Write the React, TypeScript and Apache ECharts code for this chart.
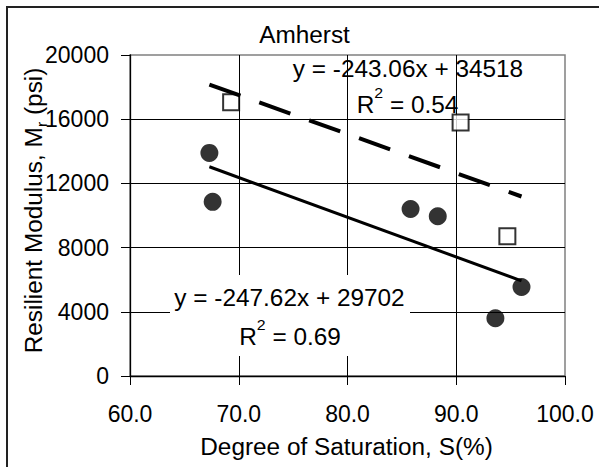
import React, { useEffect, useRef } from "react";
import * as echarts from "echarts";

const FONT = "'Liberation Sans', Arial, sans-serif";

const titleText = "Amherst";
const xAxisTitle = "Degree of Saturation, S(%)";
const yAxisTitle = "Resilient Modulus, M{sub|r} (psi)";

// axis ranges
const xMin = 60;
const xMax = 100;
const xStep = 10;
const yMin = 0;
const yMax = 20000;
const yStep = 4000;

// filled circles (solid trendline)
const filledSat = [67.3, 67.6, 85.8, 88.3, 93.6, 96.0];
const filledMr = [13900, 10850, 10400, 9950, 3600, 5550];

// open squares (dashed trendline)
const openSat = [69.3, 90.4, 94.7];
const openMr = [17050, 15800, 8700];

// trendline equations printed on the chart
const solidSlope = -247.62;
const solidIntercept = 29702;
const solidR2 = "0.69";
const dashedSlope = -243.06;
const dashedIntercept = 34518;
const dashedR2 = "0.54";

const zip = (a: number[], b: number[]) => a.map((v, i) => [v, b[i]]);
const trendRange = [Math.min(...filledSat), Math.max(...filledSat)];
const fitLine = (m: number, c: number) => trendRange.map((x) => [x, m * x + c]);
const eqText = (m: number, c: number) => `y = ${m.toFixed(2)}x + ${c}`;

const SX = 1.06;

function makeOption(): any {
  const axisLabel = { fontSize: 23, fontFamily: FONT, color: "#000" };
  const r2Rich = {
    r: { fontSize: 23, fontFamily: FONT, lineHeight: 40, fill: "#000" },
    sup: { fontSize: 15, fontFamily: FONT, lineHeight: 15, verticalAlign: "top", fill: "#000" },
  };
  const txt = (x: number, y: number, text: string, extra: any = {}) => ({
    type: "text",
    x,
    y,
    scaleX: SX,
    z: 100,
    silent: true,
    style: {
      text,
      fontSize: 23,
      fontFamily: FONT,
      fill: "#000",
      align: "center",
      verticalAlign: "middle",
      ...extra,
    },
  });
  return {
    animation: false,
    backgroundColor: "#fff",
    grid: {
      left: 130,
      top: 55,
      width: 435,
      height: 321,
      show: true,
      backgroundColor: "#fff",
      borderColor: "#808080",
      borderWidth: 1.5,
    },
    xAxis: {
      type: "value",
      min: xMin,
      max: xMax,
      interval: xStep,
      axisLine: { show: true, onZero: false, lineStyle: { color: "#000", width: 1.3 } },
      axisTick: { show: true, inside: false, length: 9, lineStyle: { color: "#000", width: 1 } },
      axisLabel: { ...axisLabel, margin: 26, formatter: (v: number) => v.toFixed(1) },
      splitLine: {
        show: true,
        showMinLine: false,
        showMaxLine: false,
        lineStyle: { color: "#000", width: 1 },
      },
    },
    yAxis: {
      type: "value",
      min: yMin,
      max: yMax,
      interval: yStep,
      axisLine: { show: true, onZero: false, lineStyle: { color: "#000", width: 1.3 } },
      axisTick: { show: true, inside: false, length: 9, lineStyle: { color: "#000", width: 1 } },
      axisLabel: { ...axisLabel, margin: 21, formatter: (v: number) => String(v) },
      splitLine: {
        show: true,
        showMinLine: false,
        showMaxLine: false,
        lineStyle: { color: "#000", width: 1 },
      },
    },
    series: [
      {
        type: "scatter",
        data: zip(filledSat, filledMr),
        symbol: "circle",
        symbolSize: 18,
        itemStyle: { color: "#000" },
        z: 3,
      },
      {
        type: "scatter",
        data: zip(openSat, openMr),
        symbol: "rect",
        symbolSize: 16,
        itemStyle: { color: "#fff", borderColor: "#000", borderWidth: 2 },
        z: 3,
      },
      {
        type: "line",
        data: fitLine(solidSlope, solidIntercept),
        symbol: "none",
        lineStyle: { color: "#000", width: 3, type: "solid" },
        z: 4,
      },
      {
        type: "line",
        data: fitLine(dashedSlope, dashedIntercept),
        symbol: "none",
        lineStyle: { color: "#000", width: 4, type: [33, 20] },
        z: 4,
      },
    ],
    graphic: [
      {
        type: "rect",
        silent: true,
        z: 0,
        shape: { x: 7, y: 7, width: 900, height: 900 },
        style: { fill: "none", stroke: "#222", lineWidth: 2 },
      },
      {
        type: "rect",
        silent: true,
        z: 50,
        shape: { x: 170, y: 275, width: 240, height: 81 },
        style: { fill: "#fff", stroke: "none" },
      },
      txt(304.5, 35, titleText),
      txt(346.5, 447, xAxisTitle),
      {
        ...txt(34, 210.5, yAxisTitle, {
          rich: {
            sub: { fontSize: 15, fontFamily: FONT, lineHeight: 15, verticalAlign: "bottom", fill: "#000" },
          },
          lineHeight: 30,
        }),
        rotation: Math.PI / 2,
      },
      txt(408, 69.5, eqText(dashedSlope, dashedIntercept)),
      txt(407.5, 105, `{r|R}{sup|2}{r| = ${dashedR2}}`, { rich: r2Rich }),
      txt(289.5, 298.5, eqText(solidSlope, solidIntercept)),
      txt(290, 337, `{r|R}{sup|2}{r| = ${solidR2}}`, { rich: r2Rich }),
    ],
  };
}

export default function App() {
  const ref = useRef<HTMLDivElement>(null);
  useEffect(() => {
    const chart = echarts.init(ref.current!, null, { renderer: "svg" });
    chart.setOption(makeOption());
    return () => chart.dispose();
  }, []);
  return (
    <div
      ref={ref}
      style={{ position: "absolute", left: 0, top: 0, width: 599, height: 467, background: "#fff" }}
    />
  );
}
